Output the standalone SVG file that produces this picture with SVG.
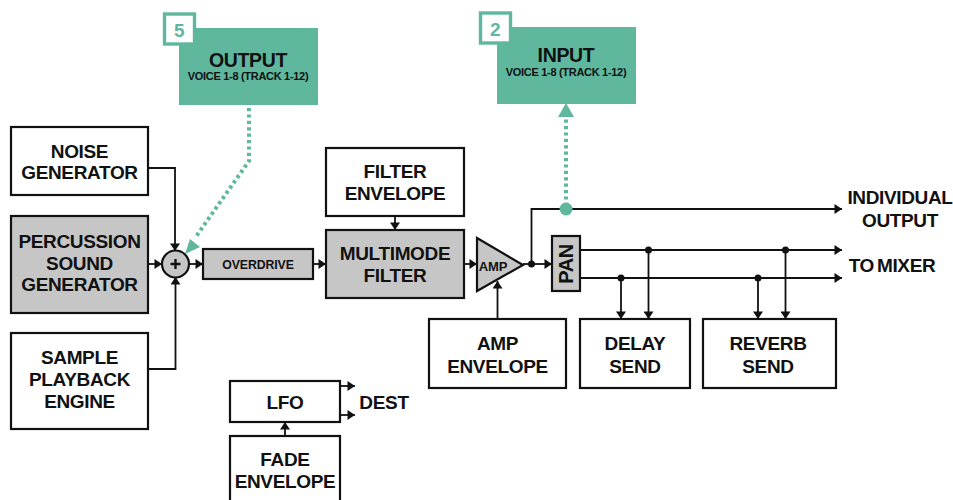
<svg xmlns="http://www.w3.org/2000/svg" width="953" height="500" viewBox="0 0 953 500">
<defs>
<marker id="a" markerUnits="userSpaceOnUse" markerWidth="10" markerHeight="10" refX="9" refY="5" orient="auto"><path d="M1.5 0 L9 5 L1.5 10 Z" fill="#111"/></marker>
<style>
.b{fill:#fff;stroke:#111;stroke-width:2.2}
.g{fill:#c6c6c6;stroke:#111;stroke-width:2.2}
.t{fill:#5fb89e}
.bd{fill:#fff;stroke:#5fb89e;stroke-width:3.4}
text{font-family:"Liberation Sans",Arial,sans-serif;font-weight:700;fill:#111;text-anchor:middle;font-size:19px;letter-spacing:-.35px}
.s{font-size:11px;letter-spacing:-.3px}
.m{font-size:12.300px;letter-spacing:-.1px}
.a{font-size:13px;letter-spacing:-.2px}
.h{font-size:19.500px}
.n{fill:#5fb89e;font-size:19px}
.l{fill:none;stroke:#111;stroke-width:1.8}
.ar{marker-end:url(#a)}
.d{fill:none;stroke:#5fb89e;stroke-width:4;stroke-dasharray:3.2 3.2}
</style>
</defs>
<g id="connectors">
<path class="l ar" d="M148 168H175V251"/>
<path class="l ar" d="M148 264H162"/>
<path class="l ar" d="M148 369H175.500V277"/>
<path class="l ar" d="M189 264H203"/>
<path class="l ar" d="M313 264H326"/>
<path class="l ar" d="M395 216V230"/>
<path class="l ar" d="M464 264H477"/>
<path class="l ar" d="M523 264H552"/>
<path class="l ar" d="M497.500 319V281"/>
<path class="l ar" d="M531.500 264V209H842"/>
<path class="l ar" d="M580 250H842"/>
<path class="l ar" d="M580 278H842"/>
<path class="l ar" d="M621 278V319"/>
<path class="l ar" d="M648.500 250V319"/>
<path class="l ar" d="M758 278V319"/>
<path class="l ar" d="M785.500 250V319"/>
<path class="l ar" d="M340 386H355"/>
<path class="l ar" d="M340 415H355"/>
<path class="l ar" d="M285 436V422"/>
<circle cx="531.500" cy="264" r="3.500" fill="#111"/>
<circle cx="648.500" cy="250" r="3.500" fill="#111"/>
<circle cx="621" cy="278" r="3.500" fill="#111"/>
<circle cx="785.500" cy="250" r="3.500" fill="#111"/>
<circle cx="758" cy="278" r="3.500" fill="#111"/>
<path class="d" d="M249 108V161L195 238"/>
<path class="t" d="M185 254L190 239L200 247Z"/>
<path class="d" d="M566 206V119"/>
<path class="t" d="M566 103L574 117H558Z"/>
<circle class="t" cx="566" cy="209" r="6.500"/>
</g>
<g id="output"><rect class="t" x="179" y="28" width="139" height="77"/><rect class="bd" x="164.500" y="14" width="30" height="30"/><text class="n" x="179" y="37">5</text><text class="h" x="248" y="67">OUTPUT</text><text class="s" x="248" y="80">VOICE 1-8 (TRACK 1-12)</text></g>
<g id="input"><rect class="t" x="497" y="27" width="139" height="77"/><rect class="bd" x="480.500" y="13" width="30" height="30"/><text class="n" x="495" y="36">2</text><text class="h" x="566" y="62">INPUT</text><text class="s" x="566" y="76">VOICE 1-8 (TRACK 1-12)</text></g>
<g id="noise"><rect class="b" x="11" y="127" width="137" height="68"/><text x="79.500" y="158">NOISE</text><text x="79.500" y="179">GENERATOR</text></g>
<g id="percussion"><rect class="g" x="11" y="216" width="137" height="97"/><text x="79.500" y="248">PERCUSSION</text><text x="79.500" y="270">SOUND</text><text x="79.500" y="291">GENERATOR</text></g>
<g id="sample"><rect class="b" x="11" y="333" width="137" height="96"/><text x="79.500" y="364">SAMPLE</text><text x="79.500" y="386">PLAYBACK</text><text x="79.500" y="408">ENGINE</text></g>
<g id="sum"><circle cx="175.500" cy="264" r="13.500" fill="#c6c6c6" stroke="#111" stroke-width="2.200"/><path d="M170.500 264H180.500M175.500 259V269" stroke="#111" stroke-width="2.400"/></g>
<g id="overdrive"><rect class="g" x="203" y="249" width="110" height="30"/><text class="m" x="258" y="269">OVERDRIVE</text></g>
<g id="filter-envelope"><rect class="b" x="326" y="148" width="138" height="68"/><text x="395" y="178">FILTER</text><text x="395" y="200">ENVELOPE</text></g>
<g id="multimode"><rect class="g" x="326" y="230" width="138" height="68"/><text x="395" y="260">MULTIMODE</text><text x="395" y="282">FILTER</text></g>
<g id="amp"><path class="g" d="M477 238L523 265L477 291Z"/><text class="a" x="493" y="271">AMP</text></g>
<g id="pan"><rect class="g" x="552" y="236" width="28" height="55"/><text transform="translate(573 264) rotate(-90)" x="0" y="0" style="font-size:20px">PAN</text></g>
<g id="amp-envelope"><rect class="b" x="429" y="319" width="137" height="69"/><text x="497.500" y="350">AMP</text><text x="497.500" y="373">ENVELOPE</text></g>
<g id="delay"><rect class="b" x="580" y="319" width="110" height="69"/><text x="635" y="350">DELAY</text><text x="635" y="373">SEND</text></g>
<g id="reverb"><rect class="b" x="703" y="319" width="133" height="69"/><text x="768" y="350">REVERB</text><text x="768" y="373">SEND</text></g>
<g id="lfo"><rect class="b" x="230" y="381" width="110" height="41"/><text x="285" y="409">LFO</text></g>
<g id="fade"><rect class="b" x="230" y="436" width="110" height="66"/><text x="285" y="466">FADE</text><text x="285" y="488">ENVELOPE</text></g>
<g id="labels"><text x="900" y="204">INDIVIDUAL</text><text x="900" y="227">OUTPUT</text><text x="892" y="272" style="word-spacing:-2px">TO MIXER</text><text x="384" y="409">DEST</text></g>
</svg>
